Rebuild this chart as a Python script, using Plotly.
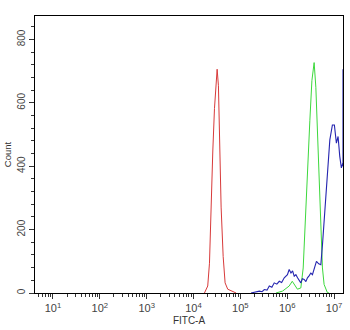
import plotly.graph_objects as go

# Histogram traces (FITC-A intensity, event count)
red_fitc = [17100, 20100, 21900, 23800, 25800, 28000, 31900, 34000, 35700,
            38800, 42900, 47200, 53700, 68500, 81100]
red_count = [0, 22, 94, 292, 448, 582, 706, 654, 479, 271, 115, 32, 12, 6, 0]

green_fitc = [575000, 795000, 1100000, 1280000, 1650000, 1950000, 2190000,
              2420000, 2700000, 3040000, 3360000, 3750000, 4080000, 4420000,
              4800000, 5210000, 5640000, 6120000, 7190000, 7830000]
green_count = [0, 6, 22, 37, 12, 16, 79, 234, 390, 545, 670, 727, 649, 494,
               338, 183, 79, 27, 1, 0]

blue_fitc = [169000, 183000, 254000, 290000, 324000, 370000, 414000, 470000,
             528000, 600000, 676000, 760000, 863000, 1010000, 1100000,
             1200000, 1300000, 1410000, 1530000, 1660000, 1800000, 1950000,
             2100000, 2300000, 2500000, 2700000, 2950000, 3190000, 3450000,
             3750000, 4200000, 4700000, 5210000, 5640000, 6440000, 7190000,
             8110000, 9200000, 10140000, 11190000, 12160000, 13210000,
             14290000, 15310000, 15490000, 15490000]
blue_count = [0, 1, 6, 4, 11, 9, 22, 18, 32, 28, 37, 33, 48, 58, 74, 63, 70,
              53, 58, 48, 40, 32, 45, 43, 36, 48, 55, 63, 58, 79, 100, 92,
              89, 151, 276, 390, 483, 530, 530, 473, 494, 431, 395, 410, 400,
              706]

x_tickvals = [1e1, 1e2, 1e3, 1e4, 1e5, 1e6, 1e7]
x_ticktext = ["10<sup>1</sup>", "10<sup>2</sup>", "10<sup>3</sup>",
              "10<sup>4</sup>", "10<sup>5</sup>", "10<sup>6</sup>",
              "10<sup>7</sup>"]
y_tickvals = [0, 200, 400, 600, 800]

minor_x = [m * 10 ** e for e in range(0, 8) for m in range(2, 10)]

fig = go.Figure()
fig.add_trace(go.Scatter(x=red_fitc, y=red_count, mode="lines",
                         line=dict(color="#d83a3a", width=1)))
fig.add_trace(go.Scatter(x=green_fitc, y=green_count, mode="lines",
                         line=dict(color="#3cd83c", width=1)))
fig.add_trace(go.Scatter(x=blue_fitc, y=blue_count, mode="lines",
                         line=dict(color="#2525b0", width=1.1)))

font = "Liberation Sans, Arial, sans-serif"
fig.update_layout(
    width=350, height=330,
    margin=dict(l=35, r=6, t=16, b=33),
    paper_bgcolor="white", plot_bgcolor="white",
    showlegend=False,
    font=dict(family=font, size=9, color="#444"),
)
fig.update_xaxes(
    type="log", range=[0.617, 7.19],
    tickmode="array", tickvals=x_tickvals, ticktext=x_ticktext,
    ticks="outside", ticklen=5, tickcolor="#333", tickwidth=1,
    minor=dict(tickmode="array", tickvals=minor_x, ticks="outside",
               ticklen=3, tickcolor="#333", tickwidth=1),
    showline=True, linecolor="black", linewidth=1, mirror=True,
    showgrid=False, zeroline=False,
    tickfont=dict(size=11, color="#444"),
    title=dict(text="FITC-A", font=dict(size=10, color="#333"), standoff=3),
)
fig.update_yaxes(
    range=[0, 874],
    tickmode="array", tickvals=y_tickvals,
    ticks="outside", ticklen=5, tickcolor="#333", tickwidth=1,
    minor=dict(dtick=40, tick0=0, ticks="outside", ticklen=3,
               tickcolor="#333", tickwidth=1),
    tickangle=-90,
    showline=True, linecolor="black", linewidth=1, mirror=True,
    showgrid=False, zeroline=False,
    tickfont=dict(size=10, color="#444"),
    title=dict(text="Count", font=dict(size=9.5, color="#333"), standoff=2),
)

fig.write_html("out.html")
